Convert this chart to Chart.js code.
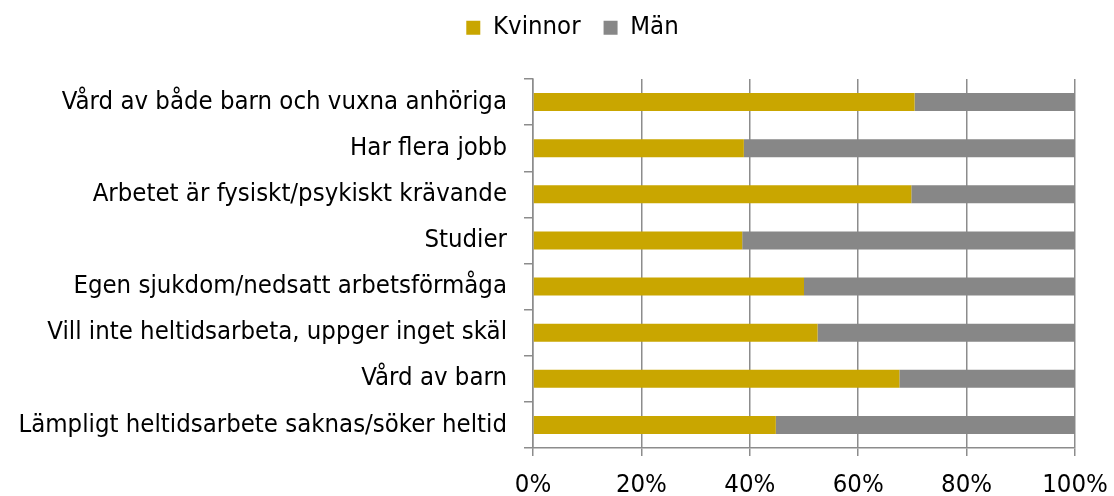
<!DOCTYPE html>
<html>
<head>
<meta charset="utf-8">
<script src="https://cdn.jsdelivr.net/npm/chart.js@4.4.0/dist/chart.umd.min.js"></script>
<style>
  html, body { margin: 0; padding: 0; background: #fff; }
  #wrap { width: 1114px; height: 496px; }
</style>
</head>
<body>
<div id="wrap"><canvas id="chart" width="1114" height="496"></canvas></div>
<script>
// Chart data (percent of each group)
const categories = [
    'Vård av både barn och vuxna anhöriga',
    'Har flera jobb',
    'Arbetet är fysiskt/psykiskt krävande',
    'Studier',
    'Egen sjukdom/nedsatt arbetsförmåga',
    'Vill inte heltidsarbeta, uppger inget skäl',
    'Vård av barn',
    'Lämpligt heltidsarbete saknas/söker heltid'
];
const kvinnor = [70.4, 38.9, 69.8, 38.6, 50.0, 52.5, 67.6, 44.8];
const man = [29.6, 61.1, 30.2, 61.4, 50.0, 47.5, 32.4, 55.2];
const xTicks = [0, 20, 40, 60, 80, 100];

const fontFamily = '"DejaVu Sans Condensed", "DejaVu Sans", sans-serif';
const fontSize = 25.5;
const gridColor = '#8c8c8c';

// Legend sits a bit right of the canvas centre and needs more room below it
const legendTweak = {
    id: 'legendTweak',
    beforeInit(chart) {
        const legend = chart.legend;
        const origFit = legend.fit;
        legend.fit = function () {
            origFit.apply(this, arguments);
            this.height = 87;
        };
        const origDraw = legend.draw;
        legend.draw = function () {
            const c = this.ctx;
            c.save();
            c.translate(30, 0);
            origDraw.apply(this, arguments);
            c.restore();
        };
    }
};

document.addEventListener('DOMContentLoaded', () => {
    const ctx = document.getElementById('chart').getContext('2d');

    new Chart(ctx, {
        type: 'bar',
        data: {
            labels: categories,
            datasets: [
                { label: 'Kvinnor', data: kvinnor, backgroundColor: '#c9a600' },
                { label: 'Män', data: man, backgroundColor: '#878787' }
            ]
        },
        plugins: [legendTweak],
        options: {
            indexAxis: 'y',
            responsive: false,
            animation: false,
            layout: { padding: { left: 10, right: 39, top: -8, bottom: 0 } },
            datasets: {
                bar: { barPercentage: 0.39, categoryPercentage: 1 }
            },
            plugins: {
                legend: {
                    position: 'top',
                    labels: {
                        boxWidth: 14,
                        boxHeight: 14,
                        padding: 23,
                        color: '#000',
                        font: { family: fontFamily, size: fontSize }
                    }
                },
                tooltip: { enabled: false }
            },
            scales: {
                x: {
                    stacked: true,
                    min: 0,
                    max: 100,
                    afterBuildTicks: (scale) => {
                        scale.ticks = xTicks.map(v => ({ value: v }));
                    },
                    afterFit: (scale) => {
                        scale.height = 48;
                        scale.paddingLeft = 0;
                        scale.paddingRight = 0;
                    },
                    ticks: {
                        color: '#000',
                        padding: 14,
                        maxRotation: 0,
                        font: { family: fontFamily, size: fontSize },
                        callback: (v) => v + '%'
                    },
                    grid: { color: gridColor, lineWidth: 1.5, tickLength: 8 },
                    border: { color: gridColor, width: 1.5 }
                },
                y: {
                    stacked: true,
                    afterFit: (scale) => { scale.width = 523; },
                    ticks: {
                        color: '#000',
                        padding: 17,
                        font: { family: fontFamily, size: fontSize }
                    },
                    grid: {
                        offset: true,
                        drawOnChartArea: false,
                        color: gridColor,
                        lineWidth: 1.5,
                        tickLength: 9
                    },
                    border: { color: gridColor, width: 1.5 }
                }
            }
        }
    });
});
</script>
</body>
</html>
